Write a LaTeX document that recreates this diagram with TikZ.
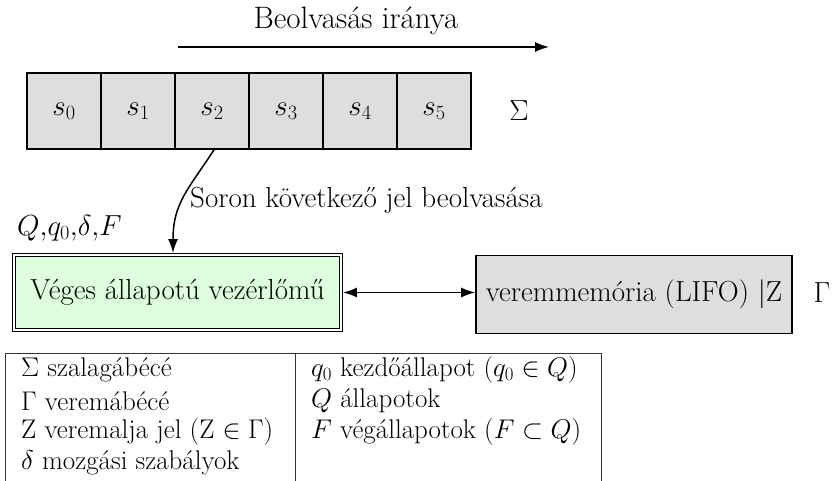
\RequirePackage{fix-cm}
\documentclass[tikz,border=0pt]{standalone}
\usepackage{fontspec}
\usetikzlibrary{arrows.meta,calc}
\definecolor{tapegray}{HTML}{DEDEDE}
\definecolor{ctlgreen}{HTML}{DDFFDD}
\begin{document}
\begin{tikzpicture}[x=1pt,y=-1pt,
  every node/.style={font=\fontsize{29}{31}\selectfont},
  cell/.style={draw, line width=1.6pt, fill=tapegray, minimum width=74pt, minimum height=76pt, inner sep=0pt},
  ctlbox/.style={draw, double=white, line width=1.2pt, double distance=1.5pt, fill=ctlgreen,
    minimum width=327pt, minimum height=75pt, inner sep=0pt, outer sep=1.95pt},
  stackbox/.style={draw, line width=1.6pt, fill=tapegray, minimum width=316pt, minimum height=78pt, inner sep=0pt, outer sep=0.8pt},
  conn/.style={line width=1.5pt, -{Latex[length=14pt,width=10pt]}},
  dconn/.style={line width=1.5pt, {Latex[length=14pt,width=10pt]}-{Latex[length=14pt,width=10pt]}},
  tbl/.style={line width=0.9pt, black!80},
  txt/.style={anchor=west, inner sep=0pt},
  tbltxt/.style={anchor=west, inner sep=0pt, font=\fontsize{27}{31}\selectfont}]
\useasboundingbox (0,0) rectangle (832,481);

% title and direction arrow
\node[font=\fontsize{31}{33}\selectfont] (title) at (356,21) {Beolvasás iránya};
\coordinate (dirA) at (178,47);
\coordinate (dirB) at (549,47);
\draw[conn] (dirA) -- (dirB);

% tape
\node[cell] (s0) at (64,111) {$s_0$};
\node[cell] (s1) at (138,111) {$s_1$};
\node[cell] (s2) at (212,111) {$s_2$};
\node[cell] (s3) at (286,111) {$s_3$};
\node[cell] (s4) at (360,111) {$s_4$};
\node[cell] (s5) at (434,111) {$s_5$};
\node (sigma) at (519,111) {$\Sigma$};

% labels
\node[txt] (readlbl) at (190,200) {Soron következő jel beolvasása};
\node[txt] (qlbl) at (17,228) {$Q{,}q_0{,}\delta{,}F$};

% control unit and stack
\node[ctlbox] (ctl) at (177.5,292.5) {Véges állapotú vezérlőmű};
\node[stackbox] (stack) at (634,294.5) {veremmemória (LIFO) |Z};
\node (gamma) at (822,293) {$\Gamma$};

\draw[conn] ([xshift=2pt]s2.south) .. controls +(-26,40) and +(0,-50) .. ([xshift=-4.5pt]ctl.north);
\draw[dconn] (ctl.east) -- (stack.west |- ctl.east);

% table
\draw[tbl] (5,353) -- (601,353);
\draw[tbl] (5,353) -- (5,481);
\draw[tbl] (295,353) -- (295,481);
\draw[tbl] (601,353) -- (601,481);

\node[tbltxt] (l1) at (21,370) {$\Sigma$ szalagábécé};
\node[tbltxt] (l2) at (21,401) {$\Gamma$ veremábécé};
\node[tbltxt] (l3) at (21,432) {Z veremalja jel (Z $\in\Gamma$)};
\node[tbltxt] (l4) at (21,463) {$\delta$ mozgási szabályok};

\node[tbltxt] (r1) at (311,370) {$q_0$ kezdőállapot ($q_0\in Q$)};
\node[tbltxt] (r2) at (311,401) {$Q$ állapotok};
\node[tbltxt] (r3) at (311,432) {$F$ végállapotok ($F\subset Q$)};
\end{tikzpicture}
\end{document}
